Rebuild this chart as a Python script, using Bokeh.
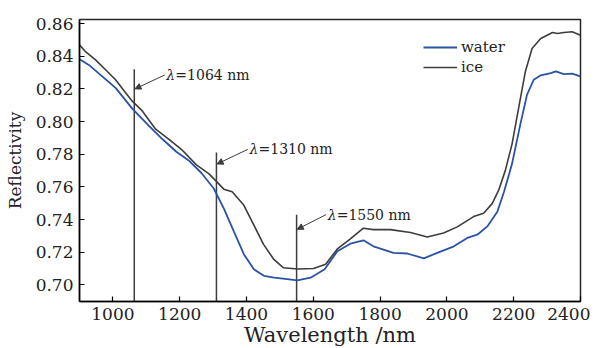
from bokeh.plotting import figure
from bokeh.models import (Range1d, FixedTicker, Arrow, NormalHead, Legend, LegendItem,
                          NumeralTickFormatter)
from bokeh.core.properties import value
from bokeh.embed import file_html
from bokeh.resources import INLINE

# ---------------- data ----------------
ice_wl = [900, 918, 948, 978, 1008, 1038, 1058, 1088, 1128, 1167, 1205, 1250, 1287, 1307,
          1332, 1357, 1391, 1421, 1451, 1481, 1510, 1553, 1601, 1637, 1672, 1711, 1750,
          1780, 1831, 1891, 1941, 1990, 2031, 2080, 2110, 2136, 2155, 2175, 2195, 2215,
          2235, 2255, 2281, 2316, 2331, 2350, 2375, 2400]
ice_r = [0.8470, 0.8428, 0.8378, 0.8317, 0.8256, 0.8176, 0.8125, 0.8065, 0.7953, 0.7893,
         0.7830, 0.7735, 0.7681, 0.7640, 0.7586, 0.7570, 0.7491, 0.7370, 0.7248, 0.7158,
         0.7105, 0.7097, 0.7100, 0.7126, 0.7220, 0.7282, 0.7347, 0.7338, 0.7338, 0.7321,
         0.7293, 0.7317, 0.7355, 0.7418, 0.7438, 0.7499, 0.7580, 0.7701, 0.7862, 0.8085,
         0.8307, 0.8448, 0.8509, 0.8545, 0.8539, 0.8545, 0.8550, 0.8529]

water_wl = [900, 928, 968, 1008, 1058, 1108, 1148, 1190, 1227, 1265, 1302, 1332, 1362,
            1392, 1422, 1452, 1483, 1522, 1552, 1592, 1634, 1672, 1711, 1750, 1780, 1840,
            1881, 1931, 1971, 2021, 2061, 2091, 2121, 2151, 2171, 2195, 2220, 2240, 2260,
            2281, 2311, 2326, 2350, 2375, 2400]
water_r = [0.8382, 0.8347, 0.8277, 0.8206, 0.8079, 0.7974, 0.7893, 0.7815, 0.7762, 0.7685,
           0.7590, 0.7468, 0.7327, 0.7188, 0.7095, 0.7055, 0.7044, 0.7035, 0.7028, 0.7044,
           0.7095, 0.7206, 0.7252, 0.7273, 0.7236, 0.7196, 0.7192, 0.7162, 0.7196, 0.7236,
           0.7287, 0.7307, 0.7358, 0.7448, 0.7570, 0.7741, 0.7984, 0.8165, 0.8256, 0.8283,
           0.8297, 0.8307, 0.8291, 0.8293, 0.8277]

marker_wl = [1064, 1310, 1550]
marker_top = [0.832, 0.781, 0.743]
marker_text = ["=1064 nm", "=1310 nm", "=1550 nm"]

x_ticks = [1000, 1200, 1400, 1600, 1800, 2000, 2200, 2400]
y_ticks = [0.70, 0.72, 0.74, 0.76, 0.78, 0.80, 0.82, 0.84, 0.86]

# ---------------- styles ----------------
BLUE = "#2a53a6"
GRAY = "#3d3d3d"
SERIF = "DejaVu Serif"

p = figure(frame_width=501, frame_height=282,
           x_range=Range1d(900, 2400), y_range=Range1d(0.6898, 0.8625),
           output_backend="svg", toolbar_location=None,
           min_border_left=79, min_border_right=10, min_border_top=19, min_border_bottom=44)
p.background_fill_color = "white"
p.border_fill_color = "white"
p.grid.visible = False
p.outline_line_color = "black"
p.outline_line_width = 1.5
p.outline_line_alpha = 0.85

for ax in (p.xaxis[0], p.yaxis[0]):
    ax.axis_line_color = "black"
    ax.axis_line_width = 1.5
    ax.major_tick_in = 5
    ax.major_tick_out = 0
    ax.minor_tick_line_color = None
    ax.major_tick_line_color = "black"
    ax.major_tick_line_width = 1.2
    ax.major_label_text_font = SERIF
    ax.major_label_text_font_size = "17px"
    ax.major_label_text_color = "#222222"
    ax.axis_label_text_font = SERIF
    ax.axis_label_text_font_style = "normal"
    ax.axis_label_text_color = "#222222"

p.xaxis.ticker = FixedTicker(ticks=x_ticks)
p.yaxis.ticker = FixedTicker(ticks=y_ticks)
p.yaxis.formatter = NumeralTickFormatter(format="0.00")
p.xaxis.axis_label = "Wavelength /nm"
p.yaxis.axis_label = "Reflectivity"
p.xaxis.axis_label_text_font_size = "21px"
p.yaxis.axis_label_text_font_size = "17px"
p.xaxis.major_label_standoff = 6
p.yaxis.major_label_standoff = 6
p.xaxis.axis_label_standoff = 0
p.yaxis.axis_label_standoff = 8

# marker lines
p.segment(x0=marker_wl, y0=[p.y_range.start] * len(marker_wl), x1=marker_wl, y1=marker_top,
          line_color=GRAY, line_width=1.5)

# curves
r_water = p.line(water_wl, water_r, line_color=BLUE, line_width=1.8)
r_ice = p.line(ice_wl, ice_r, line_color=GRAY, line_width=1.6)

# annotations (label anchor positions in data units, arrow tips at the marker lines)
label_x = [1160, 1409, 1643]
label_y = [0.8285, 0.783, 0.743]
tip_y = [0.820, 0.774, 0.734]
for wl, lx, ly, ty in zip(marker_wl, label_x, label_y, tip_y):
    p.add_layout(Arrow(end=NormalHead(size=6, fill_color=GRAY, line_color=GRAY),
                       x_start=lx - 5, y_start=ly, x_end=wl + 2, y_end=ty,
                       line_color=GRAY, line_width=1))
p.text(x=label_x, y=label_y, text=["λ"] * 3, text_font=value(SERIF),
       text_font_style="italic", text_font_size="14px", text_baseline="middle",
       text_align="left", text_color="#222222")
p.text(x=label_x, y=label_y, text=marker_text, text_font=value(SERIF),
       text_font_size="14px", text_baseline="middle", text_align="left",
       text_color="#222222", x_offset=9)

legend = Legend(items=[LegendItem(label="water", renderers=[r_water]),
                       LegendItem(label="ice", renderers=[r_ice])],
                location=(344, 224))
legend.border_line_color = None
legend.background_fill_alpha = 0
legend.padding = 0
legend.spacing = 0
legend.margin = 0
legend.glyph_width = 34
legend.glyph_height = 20
legend.label_height = 20
legend.label_standoff = 4
legend.label_text_font = SERIF
legend.label_text_font_size = "15px"
legend.label_text_color = "#222222"
p.add_layout(legend)

open("out.html", "w").write(file_html(p, INLINE))
